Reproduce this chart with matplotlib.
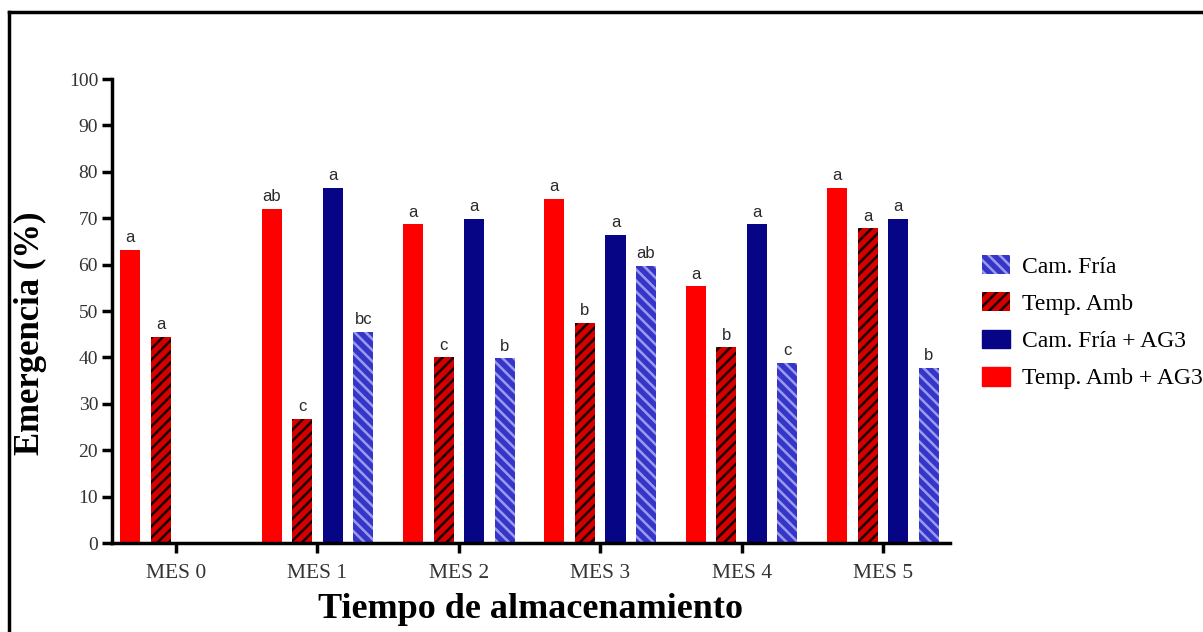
import matplotlib
matplotlib.use("Agg")
import matplotlib.pyplot as plt
import numpy as np
from matplotlib.patches import Patch
from matplotlib.lines import Line2D

months = ["MES 0", "MES 1", "MES 2", "MES 3", "MES 4", "MES 5"]

# series in drawing order inside each group
temp_amb_ag3 = [63.2, 72.0, 68.7, 74.2, 55.3, 76.5]
temp_amb = [44.4, 26.8, 40.0, 47.5, 42.2, 67.8]
cam_fria_ag3 = [np.nan, 76.5, 69.8, 66.4, 68.7, 69.8]
cam_fria = [np.nan, 45.5, 39.8, 59.8, 38.8, 37.7]

letters_temp_amb_ag3 = ["a", "ab", "a", "a", "a", "a"]
letters_temp_amb = ["a", "c", "c", "b", "b", "a"]
letters_cam_fria_ag3 = ["", "a", "a", "a", "a", "a"]
letters_cam_fria = ["", "bc", "b", "ab", "c", "b"]

plt.rcParams['hatch.linewidth'] = 1.8

fig = plt.figure(figsize=(12.03, 6.32), dpi=100)
ax = fig.add_axes([112 / 1203, 1 - 543 / 632, (950 - 112) / 1203, (543 - 79) / 632])

x = np.arange(len(months))
step = 0.216
width = 0.142

series = [
    (temp_amb_ag3, letters_temp_amb_ag3, dict(color="#ff0000")),
    (temp_amb, letters_temp_amb, dict(facecolor="#d40000", edgecolor="#1a0000", hatch="///", linewidth=0)),
    (cam_fria_ag3, letters_cam_fria_ag3, dict(color="#050585")),
    (cam_fria, letters_cam_fria, dict(facecolor="#3535c8", edgecolor="#9a9af0", hatch="\\\\\\", linewidth=0)),
]

for i, (vals, labs, style) in enumerate(series):
    pos = x + (i - 1.5) * step
    ax.bar(pos, vals, width=width, **style)
    for p, v, lab in zip(pos, vals, labs):
        if lab and not np.isnan(v):
            ax.text(p, v + 1.0, lab, ha="center", va="bottom", fontsize=12,
                    family="Liberation Sans", color="#2a2a2a")

ax.set_xlim(-0.453, 5.474)
ax.set_ylim(0, 100)
ax.set_yticks(np.arange(0, 101, 10))
ax.set_xticks(x)
ax.set_xticklabels(months)
for s in ["top", "right"]:
    ax.spines[s].set_visible(False)
for s in ["left", "bottom"]:
    ax.spines[s].set_linewidth(2.5)
ax.tick_params(axis="both", width=2.5, length=7, labelsize=14, color="black")
ax.tick_params(axis="x", pad=8, labelsize=15.5)
ax.tick_params(axis="y", pad=3)
for lab in ax.get_xticklabels() + ax.get_yticklabels():
    lab.set_family("Liberation Serif")
    lab.set_color("#333333")

ax.set_ylabel("Emergencia (%)", fontsize=25, fontweight="bold", family="Liberation Serif")
ax.yaxis.set_label_coords(-0.077, 0.453)
ax.set_xlabel("Tiempo de almacenamiento", fontsize=26, fontweight="bold", family="Liberation Serif", labelpad=7)

handles = [
    Patch(facecolor="#3535c8", edgecolor="#9a9af0", hatch="\\\\\\", linewidth=0),
    Patch(facecolor="#d40000", edgecolor="#1a0000", hatch="///", linewidth=0),
    Patch(facecolor="#050585", edgecolor="#050585"),
    Patch(facecolor="#ff0000", edgecolor="#ff0000"),
]
names = ["Cam. Fría", "Temp. Amb", "Cam. Fría + AG3", "Temp. Amb + AG3"]
fig.legend(handles, names, loc="upper left", bbox_to_anchor=(975 / 1203, 1 - 248 / 632),
           frameon=False, prop={"family": "Liberation Serif", "size": 17},
           handlelength=1.2, handleheight=0.85, labelspacing=0.62, handletextpad=0.5,
           borderaxespad=0, borderpad=0.3)

# outer frame lines (left and top)
fig.add_artist(Line2D([9 / 1203, 9 / 1203], [0, 1 - 12 / 632], transform=fig.transFigure, color="black", lw=2.5))
fig.add_artist(Line2D([9 / 1203, 1], [1 - 12 / 632, 1 - 12 / 632], transform=fig.transFigure, color="black", lw=2.5))

fig.savefig("out.png", dpi=100)
